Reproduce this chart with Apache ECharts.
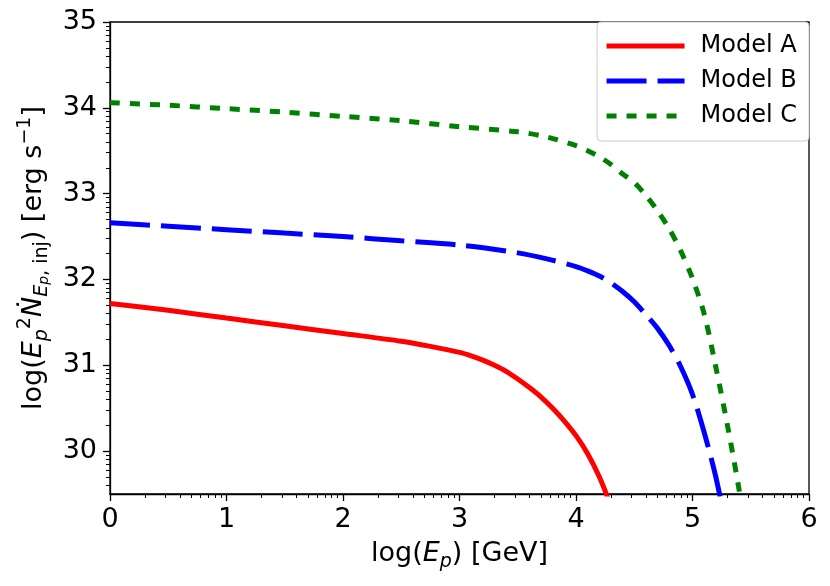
<!DOCTYPE html>
<html>
<head>
<meta charset="utf-8">
<script src="https://cdn.jsdelivr.net/npm/echarts@6/dist/echarts.min.js"></script>
<style>
  html, body { margin: 0; padding: 0; background: #fff; }
  #chart { width: 830px; height: 586px; }
</style>
</head>
<body>
<div id="chart"></div>
<script>
// axis ticks
const xTicks = [0, 1, 2, 3, 4, 5, 6];
const yTicks = [30, 31, 32, 33, 34, 35];

// curves: log(E_p) -> log(E_p^2 dN/dE)
const modelA_x = [0, 0.5, 1.0, 1.5, 2.0, 2.5, 2.75, 3.0, 3.1, 3.2, 3.3, 3.4, 3.5, 3.6, 3.7, 3.8, 3.9, 4.0, 4.1, 4.2, 4.3];
const modelA_y = [31.72, 31.64, 31.55, 31.46, 31.37, 31.28, 31.22, 31.15, 31.11, 31.06, 31.00, 30.93, 30.84, 30.74, 30.63, 30.50, 30.35, 30.18, 29.97, 29.70, 29.36];

const modelB_x = [0, 0.5, 1.0, 1.5, 2.0, 2.5, 3.0, 3.5, 3.75, 4.0, 4.1, 4.2, 4.3, 4.4, 4.5, 4.6, 4.7, 4.8, 4.9, 5.0, 5.1, 5.2, 5.3];
const modelB_y = [32.66, 32.62, 32.58, 32.54, 32.50, 32.45, 32.40, 32.31, 32.24, 32.15, 32.10, 32.04, 31.96, 31.86, 31.74, 31.59, 31.43, 31.23, 30.98, 30.66, 30.22, 29.70, 29.05];

const modelC_x = [0, 0.5, 1.0, 1.5, 2.0, 2.5, 3.0, 3.5, 3.75, 4.0, 4.1, 4.2, 4.3, 4.4, 4.5, 4.6, 4.7, 4.8, 4.9, 5.0, 5.1, 5.2, 5.3, 5.4, 5.5];
const modelC_y = [34.06, 34.03, 33.99, 33.95, 33.90, 33.85, 33.78, 33.72, 33.66, 33.56, 33.50, 33.43, 33.34, 33.23, 33.13, 32.98, 32.80, 32.59, 32.33, 32.01, 31.60, 30.98, 30.30, 29.55, 28.70];

const names = ['Model A', 'Model B', 'Model C'];

// log-spaced minor ticks between the integer majors (like the original)
function minorTicks(lo, hi) {
  const out = [];
  for (let k = Math.floor(lo); k < hi; k++) {
    for (let m = 2; m <= 9; m++) {
      const v = k + Math.log10(m);
      if (v >= lo && v <= hi) out.push(v);
    }
  }
  return out;
}

const FONT = 'DejaVu Sans';
const rich = {
  n: { fontSize: 27, fontFamily: FONT, color: '#000', lineHeight: 36 },
  i: { fontSize: 27, fontFamily: FONT, color: '#000', fontStyle: 'italic', lineHeight: 36 },
  sub: { fontSize: 19, fontFamily: FONT, color: '#000', verticalAlign: 'bottom', lineHeight: 20 },
  subi: { fontSize: 19, fontFamily: FONT, color: '#000', fontStyle: 'italic', verticalAlign: 'bottom', lineHeight: 20 },
  sub2: { fontSize: 14, fontFamily: FONT, color: '#000', fontStyle: 'italic', verticalAlign: 'bottom', lineHeight: 14 },
  sup: { fontSize: 19, fontFamily: FONT, color: '#000', verticalAlign: 'top', lineHeight: 20 }
};

function pairs(xs, ys) {
  return xs.map((x, i) => [x, ys[i]]);
}

const axisLineStyle = { color: '#000', width: 1.3 };

var chart = echarts.init(document.getElementById('chart'), null, { renderer: 'canvas' });

chart.setOption({
  animation: false,
  backgroundColor: '#fff',
  grid: {
    left: 110, right: 21, top: 22, bottom: 92,
    show: true, borderColor: '#000', borderWidth: 1.3
  },
  legend: {
    data: names,
    orient: 'vertical',
    right: 21,
    top: 22,
    itemWidth: 78,
    itemHeight: 14,
    itemGap: 11,
    padding: [12, 12, 13, 7],
    backgroundColor: '#fff',
    borderColor: '#cccccc',
    borderWidth: 1,
    borderRadius: 4,
    lineStyle: { width: 5 },
    itemStyle: { opacity: 0 },
    textStyle: { fontSize: 24, fontFamily: FONT, color: '#000', padding: [0, 0, 0, 11] }
  },
  xAxis: [{
    type: 'value',
    min: 0, max: 6,
    position: 'bottom',
    name: '{n|log(}{i|E}{subi|p}{n|) [GeV]}',
    nameLocation: 'middle',
    nameGap: 42,
    nameTextStyle: { rich: rich },
    axisLine: { show: true, lineStyle: axisLineStyle },
    axisTick: { show: true, inside: false, length: 7, customValues: xTicks, lineStyle: axisLineStyle },
    axisLabel: { customValues: xTicks, fontSize: 27, fontFamily: FONT, color: '#000', margin: 12 },
    splitLine: { show: false }
  }, {
    type: 'value',
    min: 0, max: 6,
    position: 'bottom',
    axisLine: { show: false },
    axisTick: { show: true, inside: false, length: 4, customValues: minorTicks(0, 6), lineStyle: { color: '#000', width: 1 } },
    axisLabel: { show: false },
    splitLine: { show: false }
  }],
  yAxis: [{
    type: 'value',
    min: 29.5, max: 35,
    position: 'left',
    name: '{n|log(}{i|E}{subi|p}{sup|2}{i|Ṅ}{subi|E}{sub2|p}{sub|, inj}{n|) [erg s}{sup|−1}{n|]}',
    nameLocation: 'middle',
    nameRotate: 90,
    nameGap: 48,
    nameTextStyle: { rich: rich },
    axisLine: { show: true, lineStyle: axisLineStyle },
    axisTick: { show: true, inside: false, length: 7, customValues: yTicks, lineStyle: axisLineStyle },
    axisLabel: { customValues: yTicks, fontSize: 27, fontFamily: FONT, color: '#000', margin: 13 },
    splitLine: { show: false }
  }, {
    type: 'value',
    min: 29.5, max: 35,
    position: 'left',
    axisLine: { show: false },
    axisTick: { show: true, inside: false, length: 4, customValues: minorTicks(29.5, 35), lineStyle: { color: '#000', width: 1 } },
    axisLabel: { show: false },
    splitLine: { show: false }
  }],
  series: [{
    name: names[0],
    type: 'line',
    xAxisIndex: 0, yAxisIndex: 0,
    data: pairs(modelA_x, modelA_y),
    symbol: 'none',
    smooth: 0.3,
    clip: true,
    lineStyle: { color: '#ff0000', width: 5, type: 'solid' },
    itemStyle: { color: '#ff0000' }
  }, {
    name: names[1],
    type: 'line',
    xAxisIndex: 0, yAxisIndex: 0,
    data: pairs(modelB_x, modelB_y),
    symbol: 'none',
    smooth: 0.3,
    clip: true,
    lineStyle: { color: '#0000ff', width: 5, type: [40, 11], cap: 'butt' },
    itemStyle: { color: '#0000ff' }
  }, {
    name: names[2],
    type: 'line',
    xAxisIndex: 0, yAxisIndex: 0,
    data: pairs(modelC_x, modelC_y),
    symbol: 'none',
    smooth: 0.3,
    clip: true,
    lineStyle: { color: '#008000', width: 5, type: [10, 10], cap: 'butt' },
    itemStyle: { color: '#008000' }
  }]
});
</script>
</body>
</html>
